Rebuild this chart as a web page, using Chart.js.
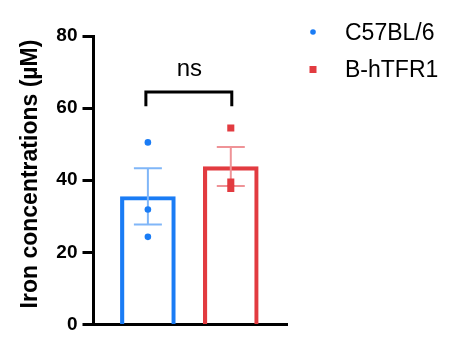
<!DOCTYPE html>
<html>
<head>
<meta charset="utf-8">
<script src="https://cdn.jsdelivr.net/npm/chart.js@4/dist/chart.umd.min.js"></script>
<style>
html, body { margin: 0; padding: 0; background: #fff; }
</style>
</head>
<body>
<canvas id="iron" width="449" height="346"></canvas>
<script>
// data
const groups = ["C57BL/6", "B-hTFR1"];
const means = [35.5, 43.8];
const sems = [7.8, 5.4];
const pointsC57 = [50.5, 31.9, 24.3];
const pointsHTFR1 = [54.5, 39.5, 37.7];
const yTicks = [0, 20, 40, 60, 80];
const yTitle = "Iron concentrations (µM)";
const sigLabel = "ns";
const bracketTop = 64.5;
const bracketLeg = 60.5;

const barColors = ["#1a7cf5", "#e23b40"];
const errColors = ["#80b6f8", "#ef9397"];
const pointStyles = ["circle", "rect"];

Chart.defaults.font.family = "'Liberation Sans', Arial, sans-serif";
Chart.defaults.color = "#000";

// SEM whiskers, drawn right after the bars so the dots sit on top
const errorBars = {
  id: "errorBars",
  afterDatasetDraw(chart, args) {
    if (args.index !== 0) return;
    const x = chart.scales.x, y = chart.scales.y, ctx = chart.ctx;
    ctx.save();
    ctx.lineWidth = 2;
    means.forEach(function(m, i) {
      const cx = x.getPixelForValue(i);
      const top = y.getPixelForValue(m + sems[i]);
      const bot = y.getPixelForValue(m - sems[i]);
      ctx.strokeStyle = errColors[i];
      ctx.beginPath();
      ctx.moveTo(cx, top); ctx.lineTo(cx, bot);
      ctx.moveTo(cx - 14, top); ctx.lineTo(cx + 14, top);
      ctx.moveTo(cx - 14, bot); ctx.lineTo(cx + 14, bot);
      ctx.stroke();
    });
    ctx.restore();
  }
};

// y title, significance bracket and legend
const extras = {
  id: "extras",
  afterDraw(chart) {
    const x = chart.scales.x, y = chart.scales.y, ctx = chart.ctx;
    const x0 = x.getPixelForValue(0), x1 = x.getPixelForValue(1);
    const yt = y.getPixelForValue(bracketTop), yl = y.getPixelForValue(bracketLeg);
    ctx.save();

    ctx.fillStyle = "#000";
    ctx.save();
    ctx.translate(31, 174);
    ctx.rotate(-Math.PI / 2);
    ctx.font = "bold 23px 'Liberation Sans', Arial, sans-serif";
    ctx.textAlign = "center";
    ctx.textBaseline = "middle";
    ctx.fillText(yTitle, 0, 0);
    ctx.restore();

    ctx.strokeStyle = "#000";
    ctx.lineWidth = 3;
    ctx.lineJoin = "miter";
    ctx.beginPath();
    ctx.moveTo(x0 - 2, yl);
    ctx.lineTo(x0 - 2, yt);
    ctx.lineTo(x1 + 1, yt);
    ctx.lineTo(x1 + 1, yl);
    ctx.stroke();

    ctx.font = "24px 'Liberation Sans', Arial, sans-serif";
    ctx.textAlign = "center";
    ctx.textBaseline = "alphabetic";
    ctx.fillText(sigLabel, (x0 + x1) / 2, yt - 16);

    // legend
    ctx.textAlign = "left";
    ctx.textBaseline = "middle";
    ctx.font = "23px 'Liberation Sans', Arial, sans-serif";
    groups.forEach(function(g, i) {
      const ly = 33 + i * 37;
      ctx.fillStyle = barColors[i];
      if (pointStyles[i] === "circle") {
        ctx.beginPath();
        ctx.arc(313, ly - 1, 2.8, 0, Math.PI * 2);
        ctx.fill();
      } else {
        ctx.fillRect(309.5, ly - 4, 7, 7);
      }
      ctx.fillStyle = "#000";
      ctx.fillText(g, 345, ly + 1);
    });
    ctx.restore();
  }
};

new Chart("iron", {
  type: "bar",
  data: {
    datasets: [
      {
        type: "bar",
        label: "mean",
        order: 2,
        data: groups.map(function(g, i) { return { x: i, y: means[i] }; }),
        backgroundColor: "rgba(255,255,255,0)",
        borderColor: barColors,
        borderWidth: 3.5,
        barThickness: 55
      },
      {
        type: "scatter",
        label: groups[0],
        order: 1,
        data: pointsC57.map(function(v) { return { x: 0, y: v }; }),
        pointStyle: pointStyles[0],
        pointRadius: 3.3,
        backgroundColor: barColors[0],
        borderWidth: 0
      },
      {
        type: "scatter",
        label: groups[1],
        order: 1,
        data: pointsHTFR1.map(function(v) { return { x: 1, y: v }; }),
        pointStyle: pointStyles[1],
        pointRadius: 5,
        backgroundColor: barColors[1],
        borderWidth: 0
      }
    ]
  },
  options: {
    responsive: false,
    animation: false,
    devicePixelRatio: 1,
    events: [],
    layout: { padding: { left: 0, right: 162, top: 36, bottom: 21.5 } },
    plugins: {
      legend: { display: false },
      tooltip: { enabled: false }
    },
    scales: {
      x: {
        type: "linear",
        offset: false,
        min: -0.656,
        max: 1.678,
        afterFit: function(s) { s.height = 0; },
        ticks: { display: false },
        grid: { display: false },
        border: { color: "#000", width: 3 }
      },
      y: {
        min: 0,
        max: 80,
        afterFit: function(s) { s.width = 93.5; },
        afterBuildTicks: function(s) { s.ticks = yTicks.map(function(v) { return { value: v }; }); },
        ticks: {
          color: "#000",
          padding: 5,
          font: { size: 19, weight: "bold" }
        },
        grid: { drawOnChartArea: false, tickLength: 11, tickWidth: 3, tickColor: "#000" },
        border: { color: "#000", width: 3 }
      }
    }
  },
  plugins: [errorBars, extras]
});
</script>
</body>
</html>
